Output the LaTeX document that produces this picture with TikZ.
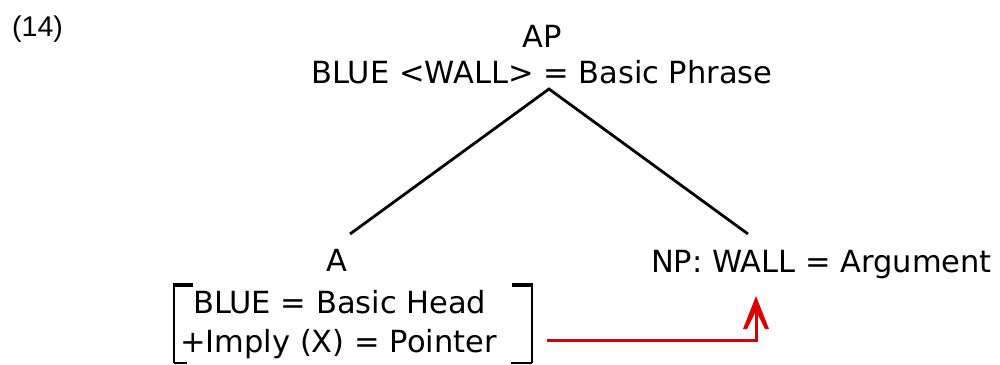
\documentclass[tikz,border=0pt]{standalone}
\usepackage{fontspec}
\setmainfont{DejaVu Sans}
\newfontfamily\numfont{Liberation Sans}
\usetikzlibrary{arrows.meta}
\definecolor{arrred}{RGB}{220,0,0}
\begin{document}
\begin{tikzpicture}[x=1pt,y=-1pt,
  lbl/.style={inner sep=0pt,font=\fontsize{30.5}{35}\selectfont},
  branch/.style={line width=2.8pt},
  brk/.style={line width=2.8pt},
  brktop/.style={line width=3.2pt},
  brkbot/.style={line width=1.6pt},
  pointer/.style={draw=arrred,line width=3pt},
  pointerhead/.style={fill=arrred,draw=none}]
\useasboundingbox (0,0) rectangle (1000,364);
% labels
\node[inner sep=0pt,anchor=base west,font=\numfont\fontsize{28.5}{32}\selectfont] (num) at (12,36) {(14)};
\node[lbl,anchor=base] (ap) at (542,47) {AP};
\node[lbl,anchor=base] (apx) at (542,83) {BLUE <WALL> = Basic Phrase};
\node[lbl,anchor=base] (a) at (337,271) {A};
\node[lbl,anchor=base] (np) at (821.5,272) {NP: WALL = Argument};
\node[lbl,anchor=base west] (head) at (193,313) {BLUE = Basic Head};
\node[lbl,anchor=base west] (ptr) at (180,352) {+Imply (X) = Pointer};
% tree branches
\coordinate (apex) at (549,89);
\coordinate (aend) at (350,234);
\coordinate (npend) at (748,234);
\draw[branch] (aend) -- (apex) -- (npend);
% brackets
\draw[brk] (174,285) -- (174,363);
\draw[brktop] (173,285) -- (193,285);
\draw[brkbot] (174,363) -- (187,363);
\draw[brk] (532,285) -- (532,363);
\draw[brktop] (512,285) -- (533,285);
\draw[brkbot] (511,363) -- (532,363);
% pointer arrow
\coordinate (rs) at (547,340);
\coordinate (re) at (756,305);
\draw[pointer] (rs) -| (re);
\fill[pointerhead] (756,296) -- (769,329) -- (765,329) -- (756,311) -- (747,329) -- (743,329) -- cycle;
\end{tikzpicture}
\end{document}
